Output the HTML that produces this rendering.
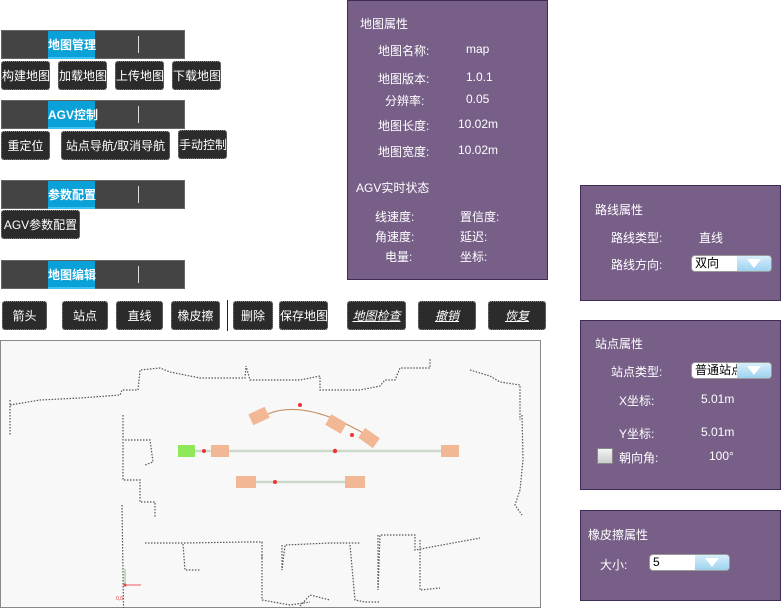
<!DOCTYPE html>
<html><head><meta charset="utf-8"><style>
html,body{margin:0;width:782px;height:609px;overflow:hidden}
body{background:#fff;position:relative;font-family:"Liberation Sans","Noto Sans CJK SC",sans-serif;}
.a{position:absolute}
.bar{position:absolute;left:1px;width:184px;height:29px;background:#444;border:1px solid #666;box-sizing:border-box}
.bar .t{position:absolute;left:46px;width:47px;top:0;height:28px;background:#0aa0d8;color:#fff;font-size:12px;font-weight:bold;line-height:28px;text-align:center;white-space:nowrap;border-bottom:2px solid #3cc0f0;box-sizing:border-box}
.bar .d{position:absolute;left:136px;top:5px;width:1px;height:17px;background:#ddd}
.b{position:absolute;background:#2b2b2b;color:#fff;font-size:12px;border-radius:3px;text-align:center;line-height:29px;height:29px;border:1px dotted #888;box-sizing:border-box;white-space:nowrap;overflow:hidden}
.u{text-decoration:underline;font-style:italic}
.p{position:absolute;background:#775f88;border:1px solid #3e2d55;box-sizing:border-box;color:#fff;font-size:12px}
.p div{position:absolute;white-space:nowrap}
.sel{position:absolute;height:17px;background:#fff;border:1px solid #999;border-radius:4px;box-sizing:border-box;color:#000;font-size:12px;line-height:15px;padding-left:3px;overflow:hidden}
.sel i{position:absolute;right:0;top:0;width:34px;height:15px;background:linear-gradient(#d8effb,#9dd2ef)}
.sel i:after{content:"";position:absolute;left:10px;top:3px;border-left:7px solid transparent;border-right:7px solid transparent;border-top:9px solid #fff}
</style></head><body>
<div class="bar" style="top:30px"><div class="t">地图管理</div><div class="d"></div></div>
<div class="b" style="left:1px;top:61px;width:49px">构建地图</div>
<div class="b" style="left:58px;top:61px;width:49px">加载地图</div>
<div class="b" style="left:115px;top:61px;width:49px">上传地图</div>
<div class="b" style="left:172px;top:61px;width:49px">下载地图</div>
<div class="bar" style="top:100px"><div class="t">AGV控制</div><div class="d"></div></div>
<div class="b" style="left:1px;top:131px;width:49px">重定位</div>
<div class="b" style="left:61px;top:131px;width:109px">站点导航/取消导航</div>
<div class="b" style="left:178px;top:130px;width:49px">手动控制</div>
<div class="bar" style="top:180px"><div class="t">参数配置</div><div class="d"></div></div>
<div class="b" style="left:1px;top:210px;width:79px">AGV参数配置</div>
<div class="bar" style="top:260px"><div class="t">地图编辑</div><div class="d"></div></div>
<div class="b" style="left:2px;top:301px;width:45px">箭头</div>
<div class="b" style="left:62px;top:301px;width:46px">站点</div>
<div class="b" style="left:116px;top:301px;width:47px">直线</div>
<div class="b" style="left:171px;top:301px;width:49px">橡皮擦</div>
<div class="a" style="left:227px;top:300px;width:1px;height:31px;background:#222"></div>
<div class="b" style="left:233px;top:301px;width:40px">删除</div>
<div class="b" style="left:279px;top:301px;width:49px">保存地图</div>
<div class="b u" style="left:347px;top:301px;width:59px">地图检查</div>
<div class="b u" style="left:418px;top:301px;width:58px">撤销</div>
<div class="b u" style="left:488px;top:301px;width:58px">恢复</div>

<svg class="a" style="left:0;top:340px;display:block" width="541" height="268">
<rect x="0.5" y="0.5" width="540" height="267" fill="#f8f8f8" stroke="#888"/>
<g fill="none" stroke="#555" stroke-width="1.2" stroke-dasharray="1.5 1.5">
<polyline points="10,65 40,60 80,58 120,55 122,50 138,50 140,30 160,28 170,32 200,38 245,38 246,26 250,40 300,40 320,36 320,50 360,50 380,46 385,40 395,40 400,28 430,28 430,18"/>
<polyline points="470,30 490,36 500,42 520,45 520,80"/>
<polyline points="10,60 10,95"/>
<polyline points="123,75 123,140 140,140 140,162 155,162 155,178"/>
<polyline points="125,100 150,100 153,122 145,125"/>
<polyline points="122,165 124,300"/>
<polyline points="145,203 185,203 245,202 262,202 262,220"/>
<polyline points="183,204 185,230 200,230"/>
<polyline points="282,205 282,230 285,205 330,203 360,203"/>
<polyline points="378,195 378,250 380,195 415,195 415,210 480,198"/>
<polyline points="522,75 523,120 520,150 515,165 522,175"/>
<polyline points="262,215 262,260 290,265 310,262"/>
<polyline points="350,205 355,260 365,262 380,262"/>
<polyline points="420,200 420,250 440,248"/>
<polyline points="300,266 310,255 330,260"/>
</g>
<g stroke="#ccd8c8" stroke-width="2.5"><line x1="195" y1="111" x2="450" y2="111"/><line x1="250" y1="142" x2="355" y2="142"/></g>
<path d="M262,77 Q300,55 370,97" fill="none" stroke="#c89060" stroke-width="1.2"/>
<g fill="#f2b896"><rect x="211" y="105" width="18" height="12"/><rect x="441" y="105" width="18" height="12"/><rect x="236" y="136" width="20" height="12"/><rect x="345" y="136" width="20" height="12"/>
<rect x="250" y="70" width="18" height="12" transform="rotate(-25 259 76)"/><rect x="327" y="78" width="18" height="12" transform="rotate(30 336 84)"/><rect x="360" y="92" width="18" height="12" transform="rotate(35 369 98)"/></g>
<rect x="178" y="105" width="17" height="12" fill="#8ee85a"/>
<g fill="#e33"><circle cx="204" cy="111" r="2"/><circle cx="335" cy="111" r="2.2"/><circle cx="275" cy="142" r="2"/><circle cx="300" cy="65" r="2"/><circle cx="352" cy="95" r="2"/><circle cx="125" cy="245" r="1.5"/></g>
<g stroke="#e33" stroke-width="0.8"><line x1="125" y1="245" x2="141" y2="245"/></g>
<g stroke="#7a7" stroke-width="0.8"><line x1="125" y1="245" x2="125" y2="229"/></g>
<text x="116" y="260" font-size="5" fill="#e33">0,0</text>
</svg>

<div class="p" style="left:347px;top:0;width:201px;height:280px">
<div style="left:12px;top:14px">地图属性</div>
<div style="left:30px;top:41px">地图名称:</div><div style="left:118px;top:41px">map</div>
<div style="left:30px;top:69px">地图版本:</div><div style="left:118px;top:69px">1.0.1</div>
<div style="left:37px;top:91px">分辨率:</div><div style="left:118px;top:91px">0.05</div>
<div style="left:30px;top:116px">地图长度:</div><div style="left:110px;top:116px">10.02m</div>
<div style="left:30px;top:142px">地图宽度:</div><div style="left:110px;top:142px">10.02m</div>
<div style="left:8px;top:178px">AGV实时状态</div>
<div style="left:27px;top:207px">线速度:</div><div style="left:112px;top:207px">置信度:</div>
<div style="left:27px;top:227px">角速度:</div><div style="left:112px;top:227px">延迟:</div>
<div style="left:37px;top:247px">电量:</div><div style="left:112px;top:247px">坐标:</div>
</div>
<div class="p" style="left:580px;top:185px;width:201px;height:116px">
<div style="left:14px;top:15px">路线属性</div>
<div style="left:30px;top:43px">路线类型:</div><div style="left:118px;top:43px">直线</div>
<div style="left:30px;top:70px">路线方向:</div>
<div class="sel" style="left:110px;top:69px;width:81px">双向<i></i></div>
</div>
<div class="p" style="left:580px;top:320px;width:201px;height:170px">
<div style="left:14px;top:14px">站点属性</div>
<div style="left:30px;top:42px">站点类型:</div>
<div class="sel" style="left:110px;top:41px;width:81px">普通站点<i></i></div>
<div style="left:38px;top:71px">X坐标:</div><div style="left:120px;top:71px">5.01m</div>
<div style="left:38px;top:104px">Y坐标:</div><div style="left:120px;top:104px">5.01m</div>
<div style="left:16px;top:127px;width:14px;height:14px;background:linear-gradient(#f4f4f4,#ccc);border:1px solid #888"></div>
<div style="left:38px;top:128px">朝向角:</div><div style="left:128px;top:128px">100°</div>
</div>
<div class="p" style="left:580px;top:510px;width:201px;height:91px">
<div style="left:7px;top:15px">橡皮擦属性</div>
<div style="left:19px;top:45px">大小:</div>
<div class="sel" style="left:68px;top:43px;width:81px">5<i></i></div>
</div>
</body></html>
